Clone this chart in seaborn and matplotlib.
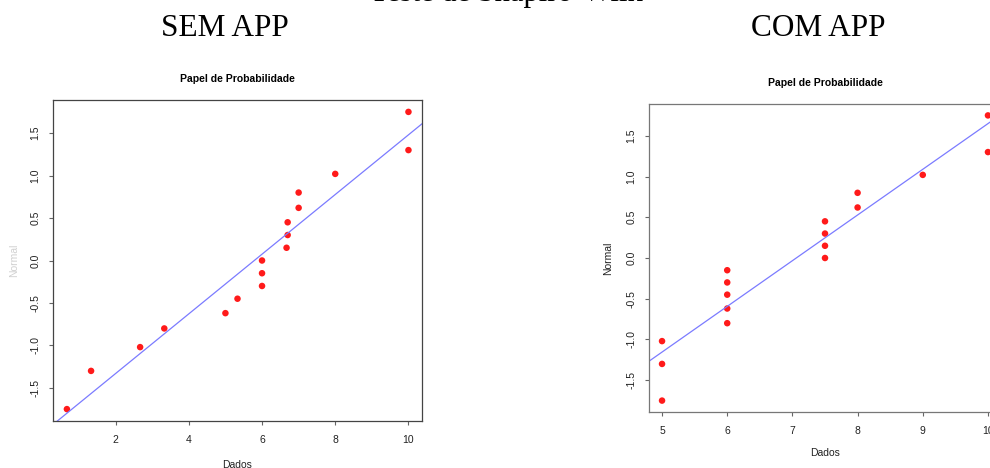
import numpy as np
import pandas as pd
import seaborn as sns
import matplotlib
matplotlib.use("Agg")
import matplotlib.pyplot as plt

# dados (ordenados)
normal = [-1.75, -1.30, -1.02, -0.80, -0.62, -0.45, -0.30, -0.15, 0.0,
          0.15, 0.30, 0.45, 0.62, 0.80, 1.02, 1.30, 1.75]
sem_app = [0.67, 1.33, 2.67, 3.33, 5.0, 5.33, 6.0, 6.0, 6.0,
           6.67, 6.7, 6.7, 7.0, 7.0, 8.0, 10.0, 10.0]
com_app = [5, 5, 5, 6, 6, 6, 6, 6, 7.5,
           7.5, 7.5, 7.5, 8, 8, 9, 10, 10]
sem_ticks = [2, 4, 6, 8, 10]
com_ticks = [5, 6, 7, 8, 9, 10]
y_ticks = [-1.5, -1.0, -0.5, 0.0, 0.5, 1.0, 1.5]

sns.set_style("white")
plt.rcParams['font.family'] = ['Liberation Sans', 'DejaVu Sans']

W, H = 990, 468
fig = plt.figure(figsize=(W / 100, H / 100), dpi=100)


def px_axes(left, top, right, bottom):
    # converte pixels da imagem em fracao da figura
    return fig.add_axes([left / W, 1 - bottom / H, (right - left) / W, (bottom - top) / H])


def papel(ax, dados, xticks, xlim, spine_col, ylab_col):
    df = pd.DataFrame({'Dados': dados, 'Normal': normal})
    sns.regplot(data=df, x='Dados', y='Normal', ax=ax, ci=None, truncate=False,
                scatter_kws=dict(s=22, color='#ff1a1a', edgecolor='none', alpha=1),
                line_kws=dict(color='#7b7bff', lw=0.9))
    ax.set_xlim(*xlim)
    ax.set_ylim(-1.89, 1.89)
    ax.set_xticks(xticks)
    ax.set_xticklabels([str(t) for t in xticks])
    ax.set_yticks(y_ticks)
    ax.set_yticklabels([f"{t:.1f}" for t in y_ticks])
    ax.tick_params(axis='both', direction='out', length=3, width=0.8,
                   color='#666666', labelsize=7.5, labelcolor='#222222',
                   left=True, bottom=True)
    ax.tick_params(axis='x', pad=7)
    ax.tick_params(axis='y', labelrotation=90, pad=6)
    for lab in ax.get_yticklabels():
        lab.set_va('center')
    for sp in ax.spines.values():
        sp.set_color(spine_col)
        sp.set_linewidth(0.9)
    ax.set_xlabel('Dados', fontsize=7.5, color='#222222')
    ax.set_ylabel('Normal', fontsize=7.5, color=ylab_col)
    ax.set_title('Papel de Probabilidade', fontsize=7.5, fontweight='bold',
                 color='black', pad=13)


ax1 = px_axes(53, 100, 422, 421)
papel(ax1, sem_app, sem_ticks, (0.29, 10.37), '#444444', '#d0d0d0')
ax1.xaxis.set_label_coords(0.5, -0.12)
ax1.yaxis.set_label_coords(-0.092, 0.5)

ax2 = px_axes(649, 104, 1001, 412)
papel(ax2, com_app, com_ticks, (4.8, 10.2), '#777777', '#222222')
ax2.xaxis.set_label_coords(0.5, -0.118)
ax2.yaxis.set_label_coords(-0.102, 0.5)

serif = ['Liberation Serif', 'DejaVu Serif']
# titulo geral cortado no topo da imagem
fig.text(506 / W, 1 - 1.5 / H, 'Teste de Shapiro-Wilk', family=serif, fontsize=22,
         color='black', ha='center', va='baseline')
fig.text(225 / W, 1 - 29 / H, 'SEM APP', family=serif, fontsize=22.5,
         color='black', ha='center', va='center')
fig.text(818 / W, 1 - 29 / H, 'COM APP', family=serif, fontsize=22.5,
         color='black', ha='center', va='center')

fig.savefig('out.png', dpi=100)
